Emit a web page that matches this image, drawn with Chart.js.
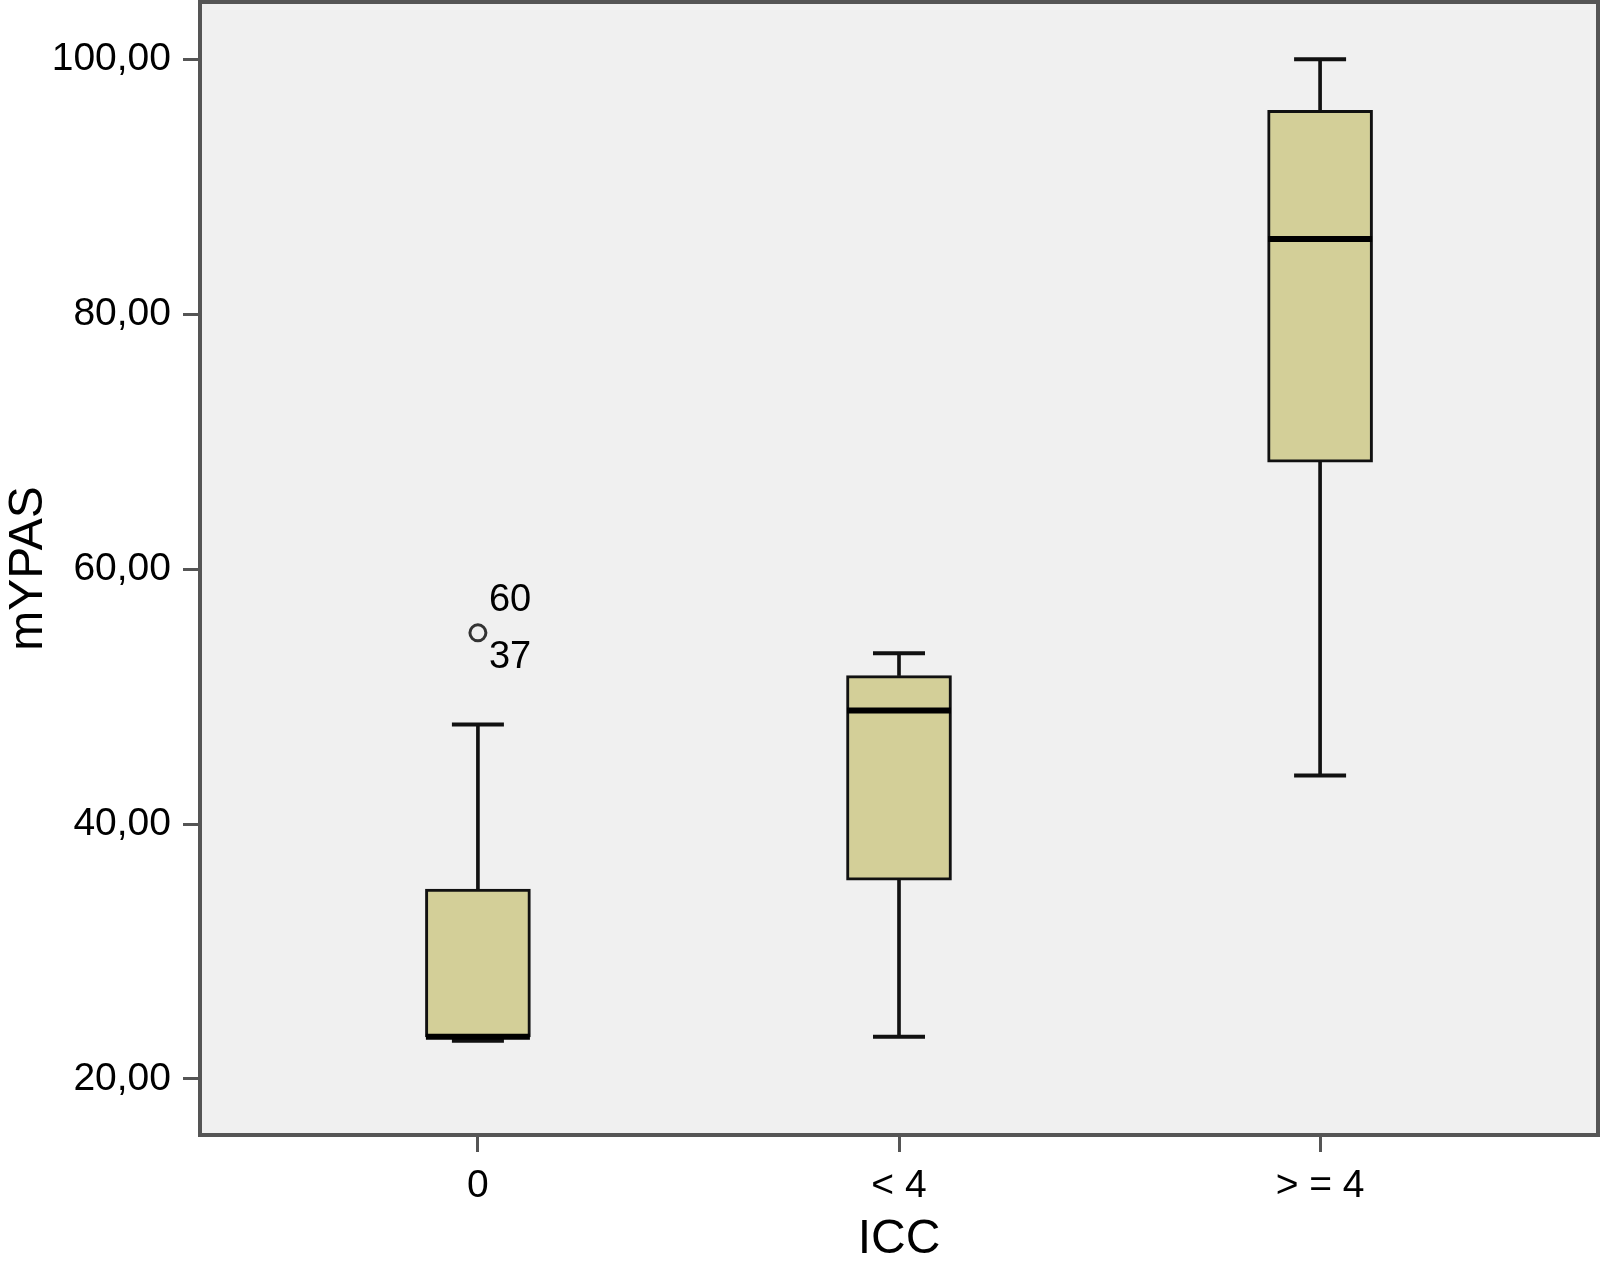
<!DOCTYPE html>
<html>
<head>
<meta charset="utf-8">
<script src="https://cdn.jsdelivr.net/npm/chart.js@4"></script>
<style>
  body { margin: 0; background: #fff; }
  canvas { display: block; }
</style>
</head>
<body>
<canvas id="box-chart" width="1602" height="1278"></canvas>
<script>
// boxplot values (mYPAS by ICC group)
var categories = ['0', '< 4', '> = 4'];
var mins    = [23.0, 23.3, 43.8];
var q1s     = [23.3, 35.6, 68.4];
var medians = [23.3, 48.9, 85.9];
var q3s     = [34.9, 51.65, 96.0];
var maxs    = [47.8, 53.4, 100.0];

var outlierCats   = [0];
var outlierValues = [55.0];
var outlierIds    = [['60', '37']];

var yTicks = [20, 40, 60, 80, 100];

var FONT = '"Liberation Sans", Arial, sans-serif';

function pts(vals) {
    return vals.map(function (v, i) { return {x: i, y: v}; });
}
function ranges(lo, hi) {
    return lo.map(function (v, i) { return {x: i, y: [v, hi[i]]}; });
}

// grey plot background and dark frame like SPSS
var frame = {
    id: 'frame',
    beforeDraw: function (chart) {
        var c = chart.ctx, a = chart.chartArea;
        c.save();
        c.fillStyle = '#fff';
        c.fillRect(0, 0, chart.width, chart.height);
        c.fillStyle = '#f0f0f0';
        c.fillRect(a.left, a.top, a.right - a.left, a.bottom - a.top);
        c.restore();
    },
    afterDraw: function (chart) {
        var c = chart.ctx, a = chart.chartArea;
        c.save();
        c.strokeStyle = '#555';
        c.lineWidth = 4;
        c.strokeRect(a.left, a.top, a.right - a.left, a.bottom - a.top);
        c.restore();
    }
};

// case numbers next to the outlier circle
var outlierLabels = {
    id: 'outlierLabels',
    afterDatasetsDraw: function (chart) {
        var c = chart.ctx, xs = chart.scales.x, ys = chart.scales.y;
        c.save();
        c.fillStyle = '#000';
        c.font = '38px ' + FONT;
        c.textBaseline = 'middle';
        c.textAlign = 'left';
        outlierCats.forEach(function (cat, i) {
            var px = xs.getPixelForValue(cat), py = ys.getPixelForValue(outlierValues[i]);
            c.fillText(outlierIds[i][0], px + 11, py - 32);
            c.fillText(outlierIds[i][1], px + 11, py + 25);
        });
        c.restore();
    }
};

new Chart(document.getElementById('box-chart').getContext('2d'), {
    type: 'bar',
    data: {
        datasets: [
            {
                label: 'box',
                data: ranges(q1s, q3s),
                backgroundColor: '#d3cf98',
                borderColor: '#111',
                borderWidth: 3,
                borderSkipped: false,
                barThickness: 105,
                grouped: false,
                order: 2
            },
            {
                label: 'upper whisker',
                data: ranges(q3s, maxs),
                backgroundColor: '#111',
                borderWidth: 0,
                barThickness: 3,
                grouped: false,
                order: 3
            },
            {
                label: 'lower whisker',
                data: ranges(mins, q1s),
                backgroundColor: '#111',
                borderWidth: 0,
                barThickness: 3,
                grouped: false,
                order: 3
            },
            {
                type: 'line',
                label: 'caps',
                data: pts(maxs).concat(pts(mins)),
                showLine: false,
                pointStyle: 'line',
                pointRadius: 26,
                pointBorderWidth: 4,
                pointBorderColor: '#111',
                order: 1
            },
            {
                type: 'line',
                label: 'median',
                data: pts(medians),
                showLine: false,
                pointStyle: 'line',
                pointRadius: 52,
                pointBorderWidth: 6,
                pointBorderColor: '#000',
                order: 0
            },
            {
                type: 'line',
                label: 'outliers',
                data: outlierCats.map(function (c, i) { return {x: c, y: outlierValues[i]}; }),
                showLine: false,
                pointStyle: 'circle',
                pointRadius: 8,
                pointBorderWidth: 3,
                pointBorderColor: '#333',
                pointBackgroundColor: '#f0f0f0',
                order: 0
            }
        ]
    },
    options: {
        responsive: false,
        animation: false,
        layout: {autoPadding: false, padding: {top: 2, right: 4, left: 0, bottom: 0}},
        plugins: {legend: {display: false}, tooltip: {enabled: false}},
        scales: {
            x: {
                type: 'linear',
                offset: false,
                min: -0.66,
                max: 2.66,
                afterBuildTicks: function (s) { s.ticks = categories.map(function (c, i) { return {value: i}; }); },
                afterFit: function (s) {
                    s.height = 143;
                    s.paddingLeft = 0;
                    s.paddingRight = 0;
                },
                border: {display: false},
                grid: {offset: false, drawOnChartArea: false, drawTicks: true, tickLength: 17, color: '#555', lineWidth: 3},
                ticks: {
                    color: '#000',
                    padding: 11,
                    maxRotation: 0,
                    font: {family: FONT, size: 39},
                    callback: function (v) { return categories[v]; }
                },
                title: {
                    display: true,
                    text: 'ICC',
                    color: '#000',
                    font: {family: FONT, size: 48},
                    padding: {top: 0, bottom: 9}
                }
            },
            y: {
                min: 15.6,
                max: 104.5,
                afterBuildTicks: function (s) { s.ticks = yTicks.map(function (v) { return {value: v}; }); },
                afterFit: function (s) {
                    s.width = 200;
                    s.paddingTop = 0;
                    s.paddingBottom = 0;
                },
                border: {display: false},
                grid: {drawOnChartArea: false, drawTicks: true, tickLength: 17, color: '#555', lineWidth: 3},
                ticks: {
                    color: '#000',
                    padding: 12,
                    font: {family: FONT, size: 39},
                    callback: function (v) { return v.toFixed(2).replace('.', ','); }
                },
                title: {
                    display: true,
                    text: 'mYPAS',
                    color: '#000',
                    font: {family: FONT, size: 48},
                    padding: {top: 0, bottom: 0}
                }
            }
        }
    },
    plugins: [frame, outlierLabels]
});
</script>
</body>
</html>
